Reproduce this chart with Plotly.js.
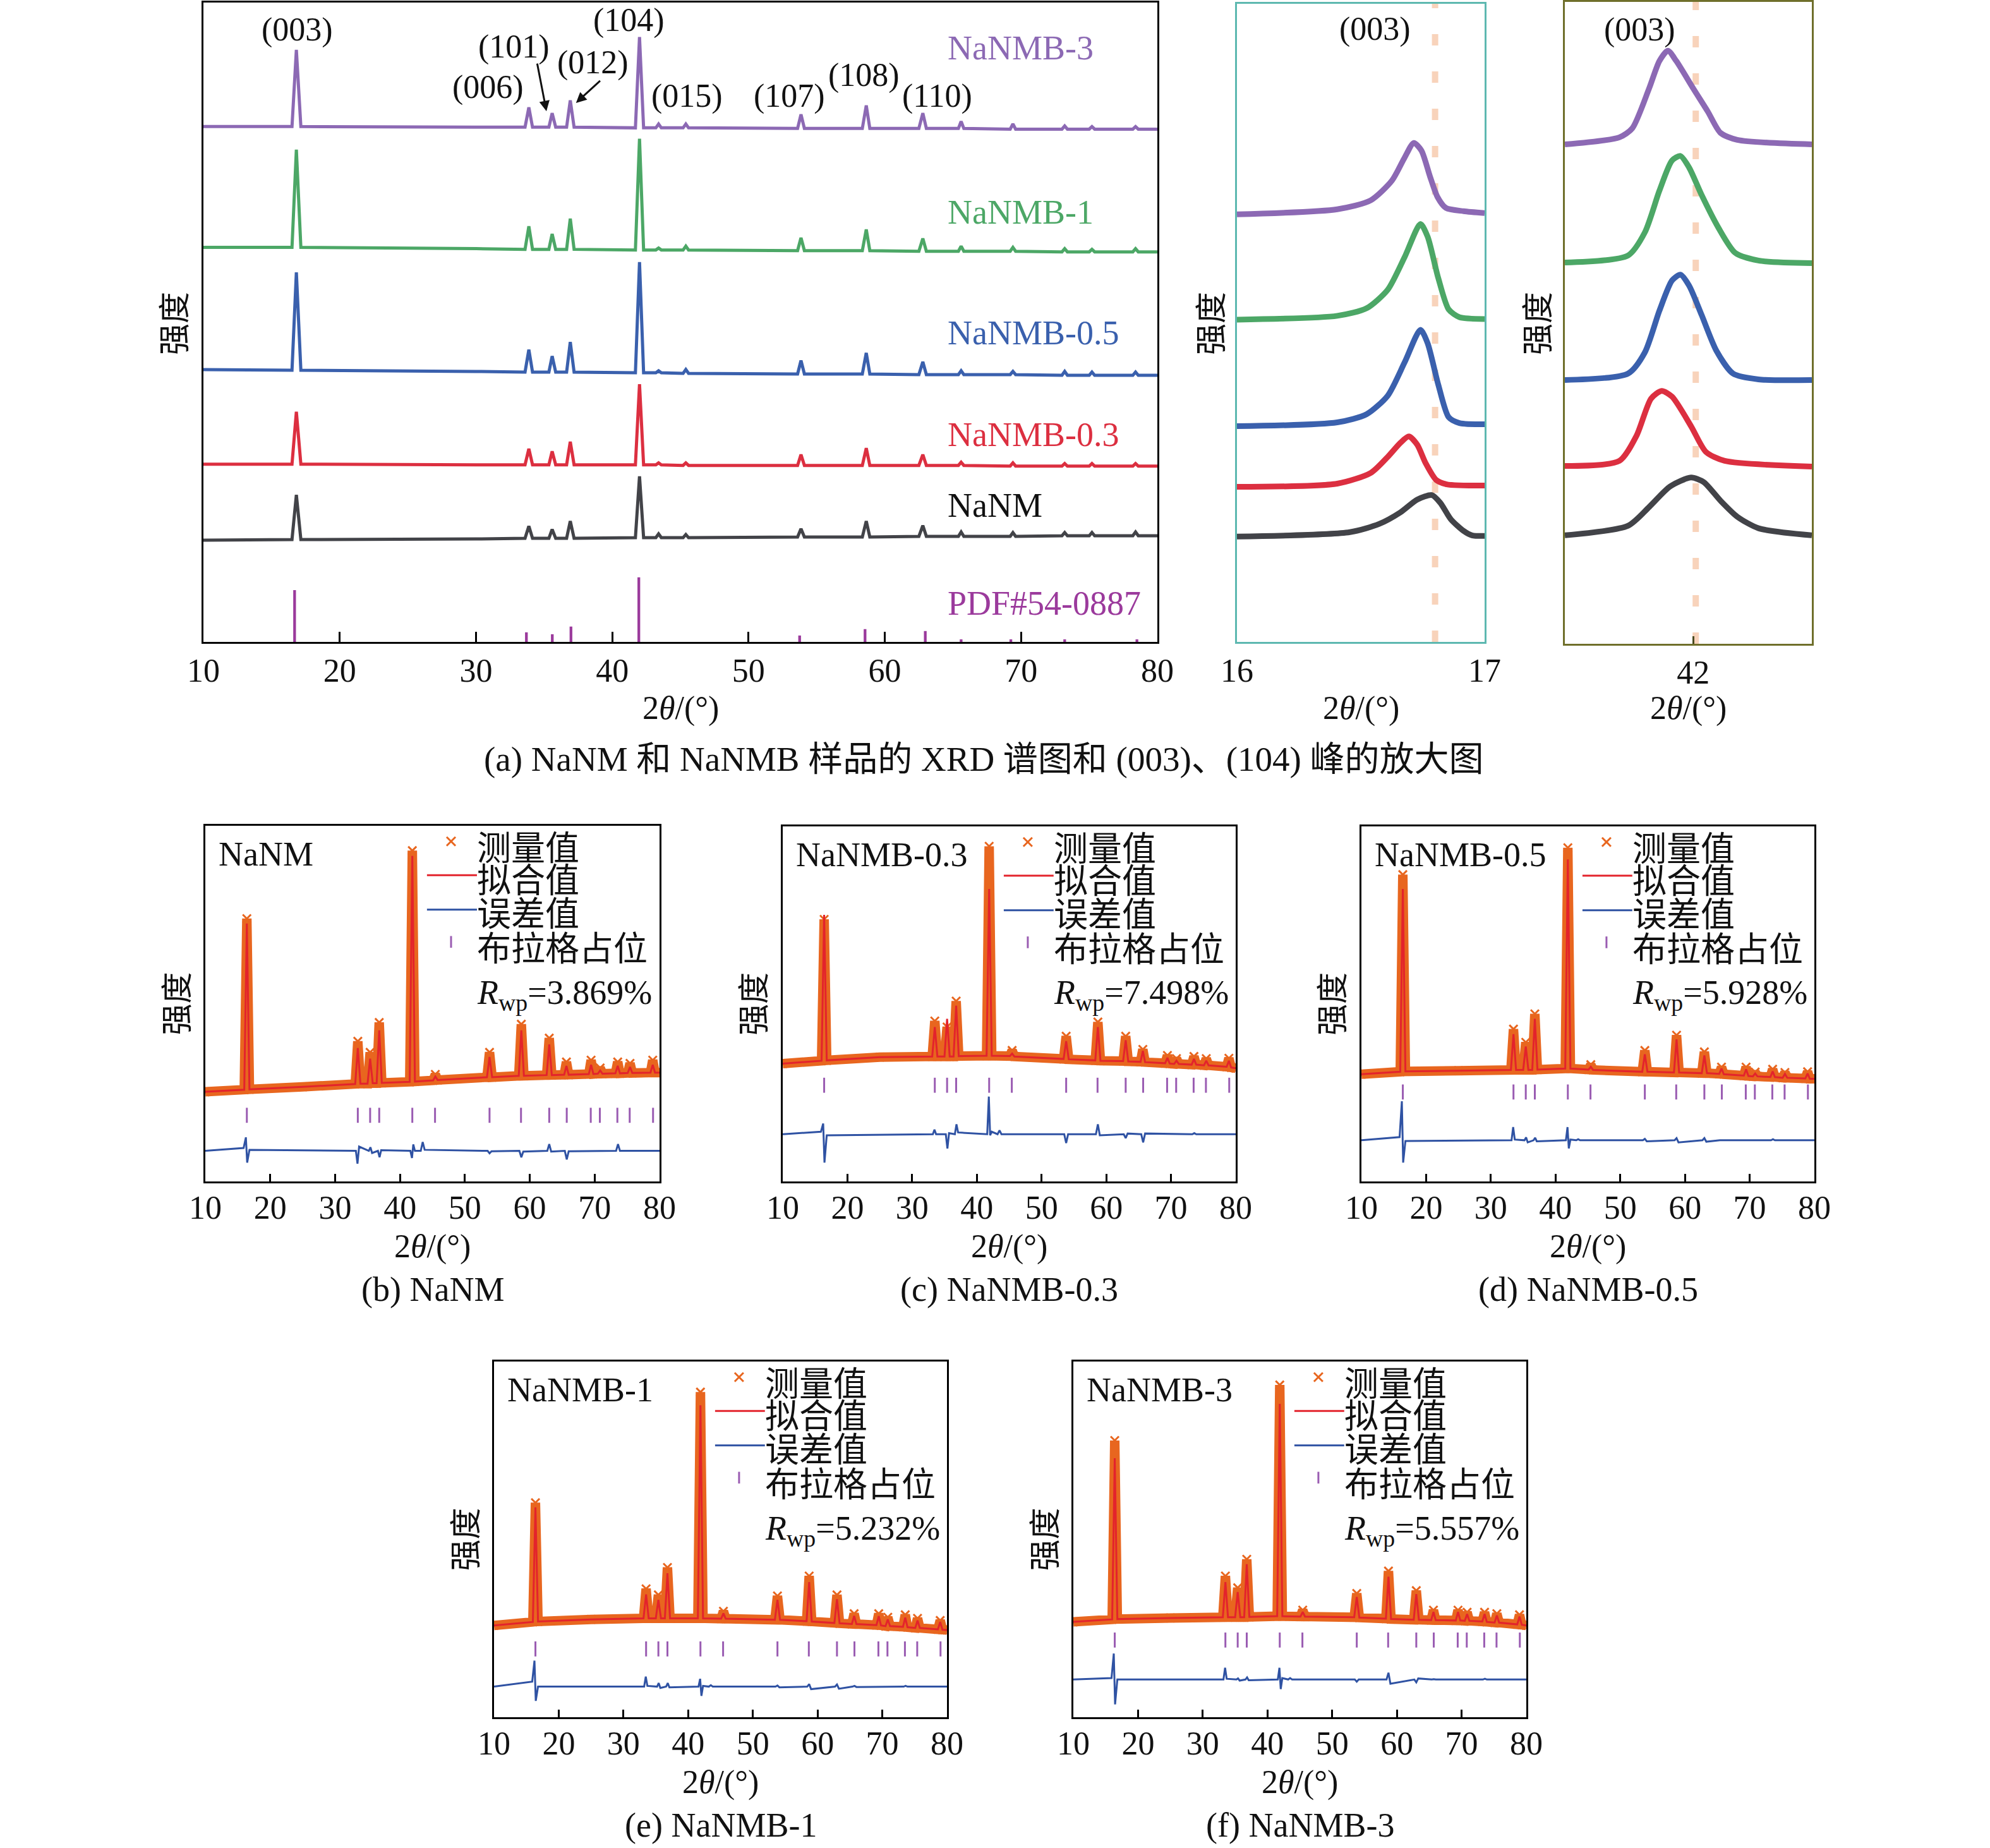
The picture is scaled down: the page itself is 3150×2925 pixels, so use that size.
<!DOCTYPE html>
<html>
<head>
<meta charset="utf-8">
<script src="https://cdn.plot.ly/plotly-3.0.1.min.js"></script>
<style>html,body{margin:0;padding:0;background:#fff}#plot{width:3150px;height:2925px}</style>
</head>
<body>
<div id="plot"></div>
<script>
// ---------------- DATA ----------------
// (a) main XRD panel: common 2θ grid and stacked intensities (arbitrary units, offset stacks)
const topX = [10, 16.5, 16.82, 17.15, 30, 33.6, 33.88, 34.15, 35.35, 35.59, 35.85, 36.65, 36.92, 37.2, 41.7, 42.0, 42.3, 43.2, 43.4, 43.6, 45.2, 45.4, 45.6, 53.6, 53.85, 54.1, 58.35, 58.64, 58.9, 62.5, 62.79, 63.05, 65.4, 65.6, 65.8, 69.2, 69.4, 69.6, 73.0, 73.2, 73.4, 75.0, 75.2, 75.4, 78.2, 78.4, 78.6, 80];
const topNaNMB3 = [80.6, 80.6, 92.6, 80.6, 80.5, 80.5, 83.6, 80.5, 80.5, 82.7, 80.5, 80.5, 84.7, 80.5, 80.4, 94.6, 80.4, 80.4, 81.0, 80.4, 80.4, 81.0, 80.4, 80.3, 82.5, 80.3, 80.3, 83.9, 80.3, 80.3, 82.7, 80.3, 80.3, 81.4, 80.3, 80.2, 81.0, 80.2, 80.2, 80.7, 80.2, 80.2, 80.6, 80.2, 80.2, 80.6, 80.2, 80.2];
const topNaNMB1 = [61.7, 61.7, 77.0, 61.7, 61.5, 61.4, 65.0, 61.4, 61.4, 63.8, 61.4, 61.4, 66.2, 61.4, 61.3, 78.7, 61.3, 61.3, 61.6, 61.3, 61.3, 61.9, 61.3, 61.2, 63.2, 61.2, 61.2, 64.5, 61.2, 61.1, 63.1, 61.1, 61.1, 61.9, 61.1, 61.1, 61.7, 61.1, 61.0, 61.5, 61.0, 61.0, 61.4, 61.0, 61.0, 61.5, 61.0, 61.0];
const topNaNMB05 = [42.6, 42.5, 57.8, 42.5, 42.3, 42.2, 45.7, 42.2, 42.2, 44.7, 42.2, 42.2, 46.9, 42.2, 42.1, 59.4, 42.1, 42.1, 42.4, 42.1, 42.0, 42.6, 42.0, 41.9, 44.0, 41.9, 41.9, 45.2, 41.9, 41.8, 43.8, 41.8, 41.8, 42.4, 41.8, 41.8, 42.3, 41.8, 41.7, 42.3, 41.7, 41.7, 42.2, 41.7, 41.7, 42.2, 41.7, 41.7];
const topNaNMB03 = [27.8, 27.8, 36.0, 27.8, 27.7, 27.7, 30.2, 27.7, 27.7, 29.8, 27.7, 27.7, 31.3, 27.7, 27.7, 40.3, 27.7, 27.7, 28.0, 27.7, 27.6, 28.0, 27.6, 27.6, 29.3, 27.6, 27.6, 30.3, 27.6, 27.6, 29.3, 27.6, 27.6, 28.1, 27.6, 27.5, 28.0, 27.5, 27.5, 27.9, 27.5, 27.5, 27.9, 27.5, 27.5, 27.9, 27.5, 27.5];
const topNaNM = [15.9, 16.0, 23.0, 16.0, 16.1, 16.2, 18.1, 16.2, 16.2, 17.6, 16.2, 16.2, 18.9, 16.2, 16.3, 25.9, 16.3, 16.3, 16.9, 16.3, 16.3, 16.8, 16.3, 16.4, 17.7, 16.4, 16.4, 18.9, 16.4, 16.5, 18.2, 16.5, 16.5, 17.2, 16.5, 16.5, 17.1, 16.5, 16.6, 17.1, 16.6, 16.6, 17.1, 16.6, 16.6, 17.2, 16.6, 16.6];
const pdfPos = [16.69, 33.7, 35.6, 36.97, 41.95, 53.75, 58.55, 62.97, 65.6, 69.25, 73.2, 78.5];
const pdfInt = [8.1, 1.5, 1.2, 2.4, 10.1, 1.0, 2.0, 1.7, 0.4, 0.4, 0.4, 0.4];
const sampleNames = ['NaNMB-3', 'NaNMB-1', 'NaNMB-0.5', 'NaNMB-0.3', 'NaNM'];
const pdfName = 'PDF#54-0887';
const peakLabels = ['(003)', '(006)', '(101)', '(012)', '(104)', '(015)', '(107)', '(108)', '(110)'];

// (003) zoom panel
const z1X_3 = [16.0, 16.405, 16.54, 16.626, 16.677, 16.714, 16.745, 16.779, 16.81, 16.844, 16.915, 17.0];
const z1Y_3 = [67.0, 67.8, 69.2, 72.3, 75.9, 78.2, 77.0, 73.0, 69.7, 68.0, 67.5, 67.2];
const z1X_1 = [16.0, 16.405, 16.524, 16.609, 16.677, 16.741, 16.77, 16.813, 16.855, 16.898, 17.0];
const z1Y_1 = [50.5, 51.1, 52.3, 55.2, 60.3, 65.5, 63.5, 57.0, 52.1, 50.9, 50.6];
const z1X_05 = [16.0, 16.405, 16.524, 16.609, 16.677, 16.741, 16.77, 16.813, 16.855, 16.898, 17.0];
const z1Y_05 = [33.8, 34.4, 35.7, 38.6, 43.8, 48.9, 46.8, 40.3, 35.2, 34.3, 34.1];
const z1X_03 = [16.0, 16.405, 16.541, 16.609, 16.66, 16.694, 16.728, 16.762, 16.804, 16.847, 17.0];
const z1Y_03 = [24.3, 24.8, 26.5, 29.0, 31.2, 32.2, 30.9, 28.0, 25.4, 24.7, 24.5];
const z1X_0 = [16.0, 16.456, 16.575, 16.66, 16.728, 16.787, 16.821, 16.864, 16.915, 16.949, 17.0];
const z1Y_0 = [16.5, 17.2, 18.5, 20.3, 22.3, 23.0, 21.8, 19.2, 17.4, 16.7, 16.6];
// (104) zoom panel
const z2X_3 = [41.48, 41.701, 41.753, 41.821, 41.863, 41.897, 41.931, 42.0, 42.059, 42.11, 42.178, 42.48];
const z2Y_3 = [77.8, 78.9, 80.3, 86.5, 90.8, 92.4, 90.8, 86.5, 82.9, 79.6, 78.5, 77.8];
const z2X_1 = [41.48, 41.736, 41.804, 41.863, 41.914, 41.948, 41.983, 42.034, 42.102, 42.17, 42.264, 42.48];
const z2Y_1 = [59.4, 60.5, 64.1, 70.6, 75.3, 76.0, 74.2, 69.9, 64.8, 60.9, 59.7, 59.3];
const z2X_05 = [41.48, 41.736, 41.804, 41.863, 41.914, 41.948, 41.983, 42.034, 42.093, 42.161, 42.264, 42.48];
const z2Y_05 = [41.1, 42.1, 45.4, 51.9, 56.6, 57.5, 55.8, 51.2, 45.7, 42.1, 41.2, 41.1];
const z2X_03 = [41.48, 41.701, 41.77, 41.829, 41.872, 41.914, 41.991, 42.051, 42.127, 42.48];
const z2Y_03 = [27.7, 28.5, 32.4, 38.2, 39.4, 38.5, 33.9, 29.9, 28.5, 27.6];
const z2X_0 = [41.48, 41.736, 41.821, 41.906, 41.991, 42.042, 42.11, 42.178, 42.264, 42.48];
const z2Y_0 = [16.9, 18.4, 21.3, 24.5, 25.9, 25.2, 22.3, 19.8, 18.0, 16.9];
const refPeaks = [16.80, 42.01];
const zoomLabels = ['(003)', '(003)'];

// Rietveld refinements (b)-(f)
const rvX = [10, 16.0, 16.4, 16.8, 25, 33.1, 33.5, 33.9, 35.0, 35.4, 35.8, 36.4, 36.8, 37.2, 41.5, 41.9, 42.3, 45.1, 45.45, 45.8, 53.4, 53.8, 54.2, 58.3, 58.7, 59.1, 62.6, 63.0, 63.4, 65.3, 65.65, 66.0, 69.1, 69.45, 69.8, 70.5, 70.85, 71.2, 73.2, 73.55, 73.9, 75.1, 75.45, 75.8, 78.6, 78.95, 79.3, 80];
const obsNaNM = [25.2, 25.8, 73.9, 25.9, 26.6, 27.4, 39.4, 27.5, 27.5, 36.3, 27.6, 27.6, 44.7, 27.7, 28.0, 93.0, 28.1, 28.4, 30.1, 28.5, 29.3, 36.3, 29.3, 29.7, 44.2, 29.7, 29.9, 40.3, 29.9, 30.0, 33.6, 30.0, 30.2, 34.1, 30.2, 30.3, 31.9, 30.3, 30.4, 33.6, 30.4, 30.5, 33.2, 30.5, 30.6, 34.1, 30.6, 30.6];
const calNaNM = [25.2, 25.8, 72.5, 25.9, 26.6, 27.4, 37.5, 27.5, 27.5, 34.5, 27.6, 27.6, 42.5, 27.7, 28.0, 91.5, 28.1, 28.4, 29.5, 28.5, 29.3, 35.0, 29.3, 29.7, 42.5, 29.7, 29.9, 38.5, 29.9, 30.0, 32.5, 30.0, 30.2, 32.8, 30.2, 30.3, 31.2, 30.3, 30.4, 32.5, 30.4, 30.5, 32.2, 30.5, 30.6, 32.8, 30.6, 30.6];
const obsB03 = [33.2, 34.0, 73.8, 34.1, 35.0, 35.2, 45.2, 35.2, 35.2, 43.5, 35.2, 35.2, 50.8, 35.3, 35.4, 94.4, 35.4, 35.3, 36.9, 35.2, 34.5, 40.9, 34.4, 34.1, 44.9, 34.0, 33.9, 40.9, 33.8, 33.7, 37.2, 33.6, 33.3, 35.5, 33.2, 33.1, 34.6, 33.1, 32.9, 35.2, 32.9, 32.7, 34.6, 32.7, 32.3, 34.7, 32.1, 31.9];
const calB03 = [33.2, 34.0, 75.1, 34.1, 35.0, 35.2, 43.5, 35.2, 35.2, 45.8, 35.2, 35.2, 49.5, 35.3, 35.4, 82.4, 35.4, 35.3, 36.0, 35.2, 34.5, 39.5, 34.4, 34.1, 43.5, 34.0, 33.9, 39.8, 33.8, 33.7, 36.8, 33.6, 33.3, 34.8, 33.2, 33.1, 34.0, 33.1, 32.9, 34.5, 32.9, 32.7, 34.0, 32.7, 32.3, 34.0, 32.1, 31.9];
const obsB05 = [30.2, 30.9, 86.4, 31.0, 31.2, 31.4, 42.9, 31.4, 31.4, 39.2, 31.4, 31.4, 47.2, 31.5, 31.8, 94.0, 31.8, 31.5, 32.9, 31.4, 30.9, 36.9, 30.9, 30.7, 41.2, 30.7, 30.5, 36.5, 30.5, 30.3, 32.2, 30.2, 29.8, 32.2, 29.7, 29.6, 30.8, 29.6, 29.4, 31.6, 29.4, 29.2, 30.7, 29.2, 29.0, 30.9, 28.9, 28.9];
const calB05 = [30.2, 30.9, 82.4, 31.0, 31.2, 31.4, 41.5, 31.4, 31.4, 38.0, 31.4, 31.4, 45.8, 31.5, 31.8, 90.7, 31.8, 31.5, 32.3, 31.4, 30.9, 35.8, 30.9, 30.7, 40.0, 30.7, 30.5, 35.5, 30.5, 30.3, 31.8, 30.2, 29.8, 31.6, 29.7, 29.6, 30.4, 29.6, 29.4, 31.0, 29.4, 29.2, 30.3, 29.2, 29.0, 30.4, 28.9, 28.9];
const obsB1 = [25.8, 26.8, 60.3, 26.9, 27.5, 27.8, 36.1, 27.8, 27.8, 34.4, 27.8, 27.8, 42.1, 27.8, 27.8, 91.4, 27.8, 27.7, 29.8, 27.7, 27.4, 34.1, 27.4, 27.0, 39.7, 26.9, 26.5, 34.4, 26.4, 26.2, 29.1, 26.2, 25.9, 29.1, 25.8, 25.6, 28.1, 25.6, 25.4, 28.8, 25.3, 25.1, 27.8, 25.1, 24.7, 27.2, 24.6, 24.5];
const calB1 = [25.8, 26.8, 59.0, 26.9, 27.5, 27.8, 34.5, 27.8, 27.8, 33.0, 27.8, 27.8, 40.5, 27.8, 27.8, 87.7, 27.8, 27.7, 29.2, 27.7, 27.4, 33.0, 27.4, 27.0, 38.0, 26.9, 26.5, 33.2, 26.4, 26.2, 28.5, 26.2, 25.9, 28.4, 25.8, 25.6, 27.5, 25.6, 25.4, 28.0, 25.3, 25.1, 27.2, 25.1, 24.7, 26.8, 24.6, 24.5];
const obsB3 = [26.8, 27.5, 77.8, 27.6, 27.9, 28.1, 39.7, 28.1, 28.1, 36.4, 28.1, 28.1, 44.4, 28.2, 28.4, 93.4, 28.4, 28.3, 30.1, 28.3, 28.1, 34.8, 28.0, 27.7, 41.1, 27.6, 27.4, 35.6, 27.4, 27.3, 30.1, 27.3, 27.2, 30.1, 27.2, 27.1, 29.5, 27.1, 26.9, 29.5, 26.8, 26.6, 29.1, 26.6, 26.1, 28.8, 26.0, 25.8];
const calB3 = [26.8, 27.5, 72.8, 27.6, 27.9, 28.1, 38.0, 28.1, 28.1, 35.2, 28.1, 28.1, 43.0, 28.2, 28.4, 88.1, 28.4, 28.3, 29.6, 28.3, 28.1, 33.8, 28.0, 27.7, 39.5, 27.6, 27.4, 34.6, 27.4, 27.3, 29.6, 27.3, 27.2, 29.6, 27.2, 27.1, 29.0, 27.1, 26.9, 29.0, 26.8, 26.6, 28.6, 26.6, 26.1, 28.3, 26.0, 25.8];
const diffX = [10, 15.9, 16.25, 16.45, 16.8, 33.2, 33.45, 33.7, 35.2, 35.45, 35.7, 36.6, 36.85, 37.1, 41.6, 41.85, 42.05, 42.3, 43.2, 43.5, 43.8, 53.5, 53.8, 54.1, 58.4, 58.7, 59.0, 62.7, 63.0, 63.3, 65.4, 65.7, 66.0, 73.3, 73.6, 73.9, 80];
const difNaNM = [8.6, 9.4, 12.4, 5.3, 8.9, 8.6, 5.0, 9.8, 8.6, 9.6, 8.0, 8.6, 6.8, 8.8, 8.6, 6.6, 10.4, 8.6, 8.6, 11.1, 8.9, 8.6, 7.9, 8.5, 8.6, 6.8, 8.4, 8.6, 10.5, 8.4, 8.6, 6.2, 8.5, 8.6, 10.5, 8.6, 8.6];
const difB03 = [13.3, 14.0, 16.3, 5.3, 13.0, 13.3, 14.6, 13.3, 13.3, 9.3, 13.6, 13.3, 16.1, 13.8, 13.3, 23.9, 13.0, 14.0, 13.3, 14.4, 13.3, 13.3, 10.8, 13.3, 13.3, 16.1, 13.0, 13.3, 12.2, 13.5, 13.3, 11.0, 13.5, 13.3, 13.6, 13.3, 13.3];
const difB05 = [11.6, 12.5, 22.6, 5.3, 11.4, 11.6, 15.3, 11.8, 11.6, 12.4, 11.0, 11.6, 12.3, 11.3, 11.6, 15.3, 9.3, 11.8, 11.6, 11.9, 11.6, 11.6, 12.0, 11.3, 11.6, 12.2, 11.0, 11.6, 12.2, 11.2, 11.6, 11.6, 11.6, 11.6, 11.9, 11.6, 11.6];
const difB1 = [8.6, 10.0, 15.9, 4.6, 8.6, 8.6, 11.4, 8.8, 8.6, 9.6, 8.2, 8.6, 9.6, 8.4, 8.6, 10.8, 6.0, 8.8, 8.6, 9.0, 8.6, 8.6, 8.9, 8.4, 8.6, 9.3, 7.9, 8.6, 9.2, 8.0, 8.6, 8.8, 8.5, 8.6, 8.8, 8.6, 8.6];
const difB3 = [10.6, 11.0, 17.9, 3.6, 10.6, 10.6, 13.9, 10.8, 10.6, 10.9, 10.3, 10.6, 11.2, 10.4, 10.6, 13.9, 7.9, 11.0, 10.6, 11.0, 10.6, 10.6, 10.0, 10.6, 10.6, 12.5, 9.4, 10.6, 9.8, 10.9, 10.6, 10.7, 10.6, 10.6, 10.8, 10.6, 10.6];
const braggPos = [16.4, 33.5, 35.4, 36.8, 41.9, 45.4, 53.8, 58.65, 63.0, 65.7, 69.4, 70.8, 73.5, 75.4, 79.0];
const braggLevel = [18.6, 27.1, 25.2, 19.2, 21.7];
const rwpValues = ['3.869', '7.498', '5.928', '5.232', '5.557'];
const rvSamples = ['NaNM', 'NaNMB-0.3', 'NaNMB-0.5', 'NaNMB-1', 'NaNMB-3'];
const rvCaptions = ['(b) NaNM', '(c) NaNMB-0.3', '(d) NaNMB-0.5', '(e) NaNMB-1', '(f) NaNMB-3'];
const legendLabels = ['测量值', '拟合值', '误差值', '布拉格占位'];
const tickVals = [10, 20, 30, 40, 50, 60, 70, 80];
const xTitle = '2<i>θ</i>/(°)';
const yTitle = '强度';
const captionA = '(a) NaNM 和 NaNMB 样品的 XRD 谱图和 (003)、(104) 峰的放大图';

// ---------------- STYLE / LAYOUT ----------------
const W = 3150, H = 2925;
const FONT = 'Liberation Serif, Noto Sans CJK SC, serif';
const sampleColors = ['#8c69b4', '#4ca766', '#3a60ad', '#dc2f40', '#424348'];
const pdfColor = '#9b3a9c';
const obsColor = '#e8661f', calColor = '#e3232c', difColor = '#2f52a3', braggColor = '#9a5cb2';
const boxes = {main: [322, 1832, 4, 1016], ins1: [1958, 2350, 6, 1016], ins2: [2477, 2868, 3, 1019]};
const rvBoxes = [[325, 1044, 1307, 1870], [1239, 1956, 1308, 1870], [2155, 2872, 1308, 1870], [782, 1499, 2155, 2718], [1699, 2416, 2155, 2718]];
const px = x => x / W, py = y => 1 - y / H;
const dom = b => ({x: [px(b[0]), px(b[1])], y: [py(b[3]), py(b[2])]});

const layout = {
  width: W, height: H, margin: {l: 0, r: 0, t: 0, b: 0},
  paper_bgcolor: '#ffffff', plot_bgcolor: '#ffffff', showlegend: false,
  font: {family: FONT, size: 52, color: '#111'},
  annotations: [], shapes: []
};
function setAxes(n, b, xo, yo) {
  const d = dom(b), s = n === 1 ? '' : String(n);
  layout['xaxis' + s] = Object.assign({domain: d.x, anchor: 'y' + s, showline: true, mirror: true, linewidth: 3, linecolor: '#000',
    showgrid: false, zeroline: false, ticks: 'inside', ticklen: 14, tickwidth: 3, tickcolor: '#000', ticklabelstandoff: -2,
    tickfont: {family: FONT, size: 52, color: '#111'}, fixedrange: true}, xo);
  layout['yaxis' + s] = Object.assign({domain: d.y, anchor: 'x' + s, showline: true, mirror: true, linewidth: 3, linecolor: '#000',
    showgrid: false, zeroline: false, ticks: '', showticklabels: false, range: [0, 100], fixedrange: true}, yo);
}
setAxes(1, boxes.main, {range: [10, 80], tickvals: tickVals, ticklen: 16});
setAxes(2, boxes.ins1, {range: [16, 17], tickvals: [16, 17], ticks: '', linecolor: '#5db8b0'}, {linecolor: '#5db8b0'});
setAxes(3, boxes.ins2, {range: [41.48, 42.48], tickvals: [42], linecolor: '#6f6f2b', tickcolor: '#4a4a20', ticklen: 12}, {linecolor: '#6f6f2b'});
rvBoxes.forEach((b, i) => setAxes(i + 4, b, {range: [10, 80], tickvals: tickVals, ticklen: 12, ticklabelstandoff: -6}));

function ann(text, x, y, o) {
  layout.annotations.push(Object.assign({text: text, x: x, y: y, xref: 'paper', yref: 'paper', showarrow: false,
    xanchor: 'center', yanchor: 'middle', font: {family: FONT, size: 52, color: '#111'}}, o || {}));
}

// ---------------- TRACES ----------------
const traces = [];
// (a) main
const topSeries = [topNaNMB3, topNaNMB1, topNaNMB05, topNaNMB03, topNaNM];
topSeries.forEach((ys, i) => traces.push({type: 'scatter', mode: 'lines', x: topX, y: ys, xaxis: 'x', yaxis: 'y',
  line: {color: sampleColors[i], width: 5}, hoverinfo: 'skip'}));
traces.push({type: 'bar', x: pdfPos, y: pdfInt, width: 0.2, xaxis: 'x', yaxis: 'y', marker: {color: pdfColor, line: {width: 0}}, hoverinfo: 'skip'});
// zoom panels
const z1 = [[z1X_3, z1Y_3], [z1X_1, z1Y_1], [z1X_05, z1Y_05], [z1X_03, z1Y_03], [z1X_0, z1Y_0]];
const z2 = [[z2X_3, z2Y_3], [z2X_1, z2Y_1], [z2X_05, z2Y_05], [z2X_03, z2Y_03], [z2X_0, z2Y_0]];
[[z1, 'x2', 'y2'], [z2, 'x3', 'y3']].forEach(([set, xa, ya]) => set.forEach((d, i) => traces.push({type: 'scatter', mode: 'lines',
  x: d[0], y: d[1], xaxis: xa, yaxis: ya, line: {color: sampleColors[i], width: 9, shape: 'spline', smoothing: 0.7}, hoverinfo: 'skip'})));
// Rietveld
const obsSets = [obsNaNM, obsB03, obsB05, obsB1, obsB3];
const calSets = [calNaNM, calB03, calB05, calB1, calB3];
const difSets = [difNaNM, difB03, difB05, difB1, difB3];
rvBoxes.forEach((b, i) => {
  const xa = 'x' + (i + 4), ya = 'y' + (i + 4);
  traces.push({type: 'scatter', mode: 'lines+markers', x: rvX, y: obsSets[i], xaxis: xa, yaxis: ya,
    line: {color: obsColor, width: 15}, marker: {symbol: 'x-thin-open', size: 13, color: obsColor, line: {color: obsColor, width: 3}}, hoverinfo: 'skip'});
  traces.push({type: 'scatter', mode: 'lines', x: rvX, y: calSets[i], xaxis: xa, yaxis: ya, line: {color: calColor, width: 3}, hoverinfo: 'skip'});
  traces.push({type: 'scatter', mode: 'lines', x: diffX, y: difSets[i], xaxis: xa, yaxis: ya, line: {color: difColor, width: 3}, hoverinfo: 'skip'});
  traces.push({type: 'scatter', mode: 'markers', x: braggPos, y: braggPos.map(() => braggLevel[i]), xaxis: xa, yaxis: ya,
    marker: {symbol: 'line-ns', size: 17, color: braggColor, line: {color: braggColor, width: 3}}, hoverinfo: 'skip'});
});

// ---------------- ANNOTATIONS ----------------
// (a) peak labels
const peakLabelPos = [[16.9, 95.8], [30.9, 86.8], [32.8, 93.1], [38.6, 90.6], [41.2, 97.2], [45.5, 85.4], [53.0, 85.4], [58.45, 88.6], [63.85, 85.4]];
peakLabels.forEach((t, i) => layout.annotations.push({text: t, x: peakLabelPos[i][0], y: peakLabelPos[i][1], xref: 'x', yref: 'y',
  showarrow: false, xanchor: 'center', yanchor: 'middle', font: {family: FONT, size: 52, color: '#111'}}));
// arrows for (101), (012)
[[35.17, 83.0, 34.48, 90.6], [37.34, 84.3, 39.18, 87.9]].forEach(a => layout.annotations.push({text: '', x: a[0], y: a[1], ax: a[2], ay: a[3],
  xref: 'x', yref: 'y', axref: 'x', ayref: 'y', showarrow: true, arrowhead: 2, arrowsize: 1.1, arrowwidth: 3, arrowcolor: '#111'}));
// (a) sample labels
const sampleLabelY = [92.9, 67.2, 48.3, 32.4, 21.3];
sampleNames.forEach((t, i) => layout.annotations.push({text: t, x: 64.5, y: sampleLabelY[i], xref: 'x', yref: 'y', showarrow: false,
  xanchor: 'left', yanchor: 'middle', font: {family: FONT, size: 54, color: i === 4 ? '#111' : sampleColors[i]}}));
layout.annotations.push({text: pdfName, x: 64.5, y: 6.0, xref: 'x', yref: 'y', showarrow: false, xanchor: 'left', yanchor: 'middle',
  font: {family: FONT, size: 54, color: pdfColor}});
// zoom labels
layout.annotations.push({text: zoomLabels[0], x: 16.558, y: 96.0, xref: 'x2', yref: 'y2', showarrow: false, font: {family: FONT, size: 52, color: '#111'}});
layout.annotations.push({text: zoomLabels[1], x: 41.783, y: 95.7, xref: 'x3', yref: 'y3', showarrow: false, font: {family: FONT, size: 52, color: '#111'}});
// dashed reference lines
[['x2', 'y2'], ['x3', 'y3']].forEach(([xa, ya], i) => layout.shapes.push({type: 'line', xref: xa, yref: ya + ' domain',
  x0: refPeaks[i], x1: refPeaks[i], y0: 0, y1: 1, layer: 'below', line: {color: '#f8d3bb', width: 10, dash: '18px,41px'}}));
// axis titles (a)
[boxes.main, boxes.ins1, boxes.ins2].forEach(b => ann(xTitle, px((b[0] + b[1]) / 2), py(1121)));
ann(yTitle, px(277), py(512), {textangle: -90, font: {family: FONT, size: 50, color: '#111'}});
ann(yTitle, px(1918), py(512), {textangle: -90, font: {family: FONT, size: 50, color: '#111'}});
ann(yTitle, px(2435), py(512), {textangle: -90, font: {family: FONT, size: 50, color: '#111'}});
ann(captionA, px(1557), py(1201), {font: {family: FONT, size: 55, color: '#111'}});

// Rietveld panel annotations & legends
const legRowY = [0.935, 0.843, 0.75, 0.652];
rvBoxes.forEach((b, i) => {
  const n = i + 4, xd = 'x' + n + ' domain', yd = 'y' + n + ' domain';
  const cx = (b[0] + b[1]) / 2;
  const titleY = b[3] + 103, capY = b[3] + 171;
  ann(xTitle, px(cx), py(titleY));
  ann(rvCaptions[i], px(cx), py(capY), {font: {family: FONT, size: 54, color: '#111'}});
  ann(yTitle, px(b[0] - 45), py((b[2] + b[3]) / 2), {textangle: -90, font: {family: FONT, size: 50, color: '#111'}});
  layout.annotations.push({text: rvSamples[i], x: 0.027, y: 0.92, xref: xd, yref: yd, showarrow: false, xanchor: 'left', yanchor: 'middle',
    font: {family: FONT, size: 54, color: '#111'}});
  legendLabels.forEach((t, k) => layout.annotations.push({text: t, x: 0.595, y: legRowY[k], xref: xd, yref: yd, showarrow: false,
    xanchor: 'left', yanchor: 'middle', font: {family: FONT, size: 54, color: '#111'}}));
  layout.annotations.push({text: '<i>R</i><sub>wp</sub>=' + rwpValues[i] + '%', x: 0.595, y: 0.525, xref: xd, yref: yd, showarrow: false,
    xanchor: 'left', yanchor: 'middle', font: {family: FONT, size: 54, color: '#111'}});
  // legend glyphs
  const mx = 0.541, my = 0.956, dx = 7 / 717, dy = 7 / 562;
  layout.shapes.push({type: 'line', xref: xd, yref: yd, x0: mx - dx, x1: mx + dx, y0: my - dy, y1: my + dy, line: {color: obsColor, width: 3}});
  layout.shapes.push({type: 'line', xref: xd, yref: yd, x0: mx - dx, x1: mx + dx, y0: my + dy, y1: my - dy, line: {color: obsColor, width: 3}});
  layout.shapes.push({type: 'line', xref: xd, yref: yd, x0: 0.488, x1: 0.598, y0: 0.861, y1: 0.861, line: {color: calColor, width: 3}});
  layout.shapes.push({type: 'line', xref: xd, yref: yd, x0: 0.488, x1: 0.598, y0: 0.764, y1: 0.764, line: {color: difColor, width: 3}});
  layout.shapes.push({type: 'line', xref: xd, yref: yd, x0: mx, x1: mx, y0: 0.657, y1: 0.69, line: {color: braggColor, width: 3}});
});

Plotly.newPlot('plot', traces, layout, {staticPlot: true, displayModeBar: false});
</script>
</body>
</html>
